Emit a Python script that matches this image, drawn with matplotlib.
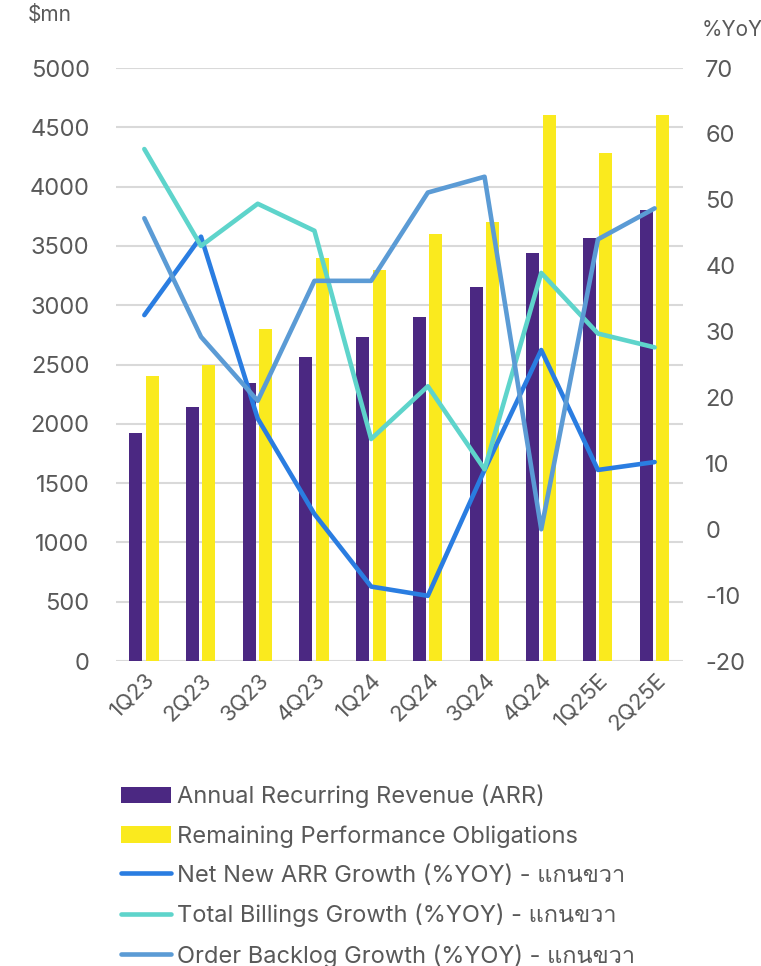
import matplotlib
matplotlib.use("Agg")
import matplotlib.pyplot as plt
from matplotlib import font_manager, ft2font
import numpy as np

# find an installed family that has Thai glyphs for the legend text
thai_family = None
for f in font_manager.fontManager.ttflist:
    try:
        if 0x0E01 in ft2font.FT2Font(f.fname).get_charmap():
            thai_family = f.name
            break
    except Exception:
        pass

families = ['Inter'] + ([thai_family] if thai_family else []) + ['DejaVu Sans']
plt.rcParams['font.family'] = families
plt.rcParams['axes.unicode_minus'] = False

quarters = ['1Q23', '2Q23', '3Q23', '4Q23', '1Q24', '2Q24', '3Q24', '4Q24', '1Q25E', '2Q25E']
arr = [1920, 2140, 2340, 2560, 2730, 2900, 3150, 3440, 3570, 3800]
rpo = [2400, 2500, 2800, 3400, 3300, 3600, 3700, 4600, 4280, 4600]
net_new_arr_growth = [32.5, 44.4, 16.8, 2.3, -8.7, -10.1, 9.0, 27.2, 9.0, 10.2]
billings_growth = [57.7, 43.0, 49.4, 45.3, 13.7, 21.7, 9.1, 38.9, 29.7, 27.6]
backlog_growth = [47.2, 29.2, 19.5, 37.7, 37.7, 51.1, 53.5, 0.0, 44.0, 48.7]

txt = '#595959'
grid_c = '#D9D9D9'

fig = plt.figure(figsize=(7.61, 9.66), dpi=100)
ax = fig.add_axes([0.1524, 0.3157, 0.7451, 0.6139])
x = np.arange(len(quarters))

b1 = ax.bar(x - 0.15, arr, width=0.23, color='#4B2882', label='Annual Recurring Revenue (ARR)', zorder=2)
b2 = ax.bar(x + 0.14, rpo, width=0.23, color='#FAEA1E', label='Remaining Performance Obligations', zorder=2)
ax.set_ylim(0, 5000)
ax.set_yticks(range(0, 5001, 500))
ax.set_xlim(-0.5, len(quarters) - 0.5)
ax.yaxis.grid(True, color=grid_c, linewidth=1.5, zorder=0)
ax.set_axisbelow(True)
for s in ax.spines.values():
    s.set_visible(False)
ax.tick_params(axis='y', length=0, pad=19, labelsize=17, labelcolor=txt)
ax.tick_params(axis='x', length=0, pad=6, labelsize=16, labelcolor=txt)
ax.set_xticks(x)
ax.set_xticklabels(quarters, rotation=45, ha='right', rotation_mode='anchor')

ax2 = ax.twinx()
ax2.set_ylim(-20, 70)
ax2.set_yticks(range(-20, 71, 10))
for s in ax2.spines.values():
    s.set_visible(False)
ax2.tick_params(axis='y', length=0, pad=16, labelsize=17, labelcolor=txt)
l1, = ax2.plot(x, net_new_arr_growth, color='#2A7DE1', lw=3.3, solid_capstyle='round', solid_joinstyle='round',
               label='Net New ARR Growth (%YOY) - แกนขวา')
l2, = ax2.plot(x, billings_growth, color='#5ED4CB', lw=3.3, solid_capstyle='round', solid_joinstyle='round',
               label='Total Billings Growth (%YOY) - แกนขวา')
l3, = ax2.plot(x, backlog_growth, color='#5B9BD5', lw=3.3, solid_capstyle='round', solid_joinstyle='round',
               label='Order Backlog Growth (%YOY) - แกนขวา')

fig.text(0.037, 0.984, '$mn', fontsize=15, color=txt, va='center')
fig.text(0.922, 0.969, '%YoY', fontsize=15, color=txt, va='center')

handles = [b1, b2, l1, l2, l3]
leg = fig.legend(handles, [h.get_label() for h in handles],
                 loc='upper left', bbox_to_anchor=(0.143, 0.2), frameon=False,
                 fontsize=17, labelcolor=txt, handlelength=2.15, handletextpad=0.25,
                 labelspacing=0.72, borderpad=0)

fig.savefig('out.png', dpi=100)
